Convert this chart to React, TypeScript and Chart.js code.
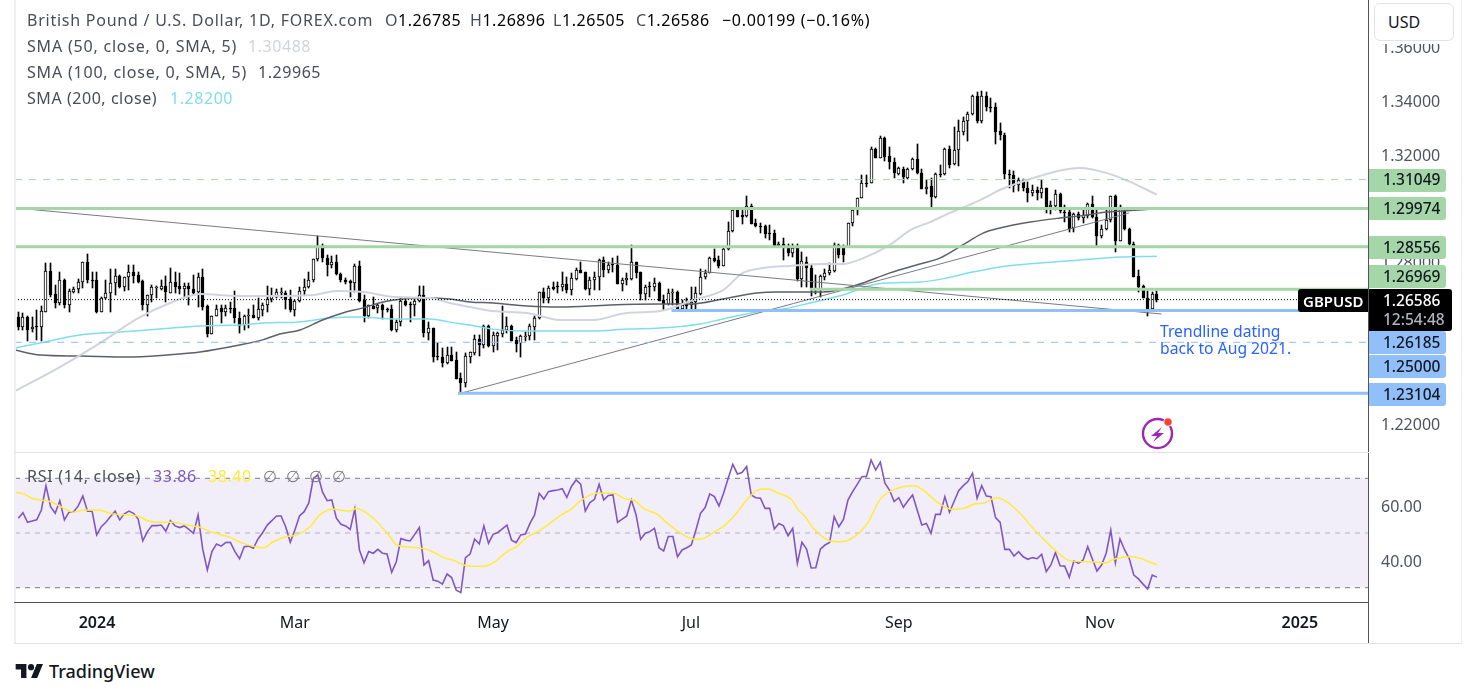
import React, { useEffect, useRef } from "react";
import { Chart, registerables } from "chart.js";

Chart.register(...registerables);

// Prices are written in 1/10000 units (12593 = 1.2593)
const opens = [
  12593,12558,12593,12548,12561,12558,12614,12764,12680,12645,
  12732,12637,12687,12697,12723,12798,12732,12732,12614,12664,
  12682,12720,12747,12707,12742,12761,12749,12728,12637,12674,
  12703,12700,12710,12685,12723,12710,12700,12710,12697,12686,
  12743,12634,12532,12596,12627,12614,12627,12627,12589,12563,
  12598,12600,12592,12620,12638,12660,12670,12685,12684,12661,
  12620,12654,12689,12705,12730,12809,12850,12814,12789,12798,
  12753,12733,12728,12720,12784,12656,12598,12635,12627,12639,
  12623,12624,12546,12575,12655,12644,12637,12654,12674,12536,
  12552,12448,12446,12424,12452,12433,12366,12348,12447,12462,
  12511,12491,12561,12488,12525,12531,12544,12560,12508,12496,
  12524,12524,12558,12589,12686,12664,12705,12710,12707,12716,
  12695,12737,12768,12761,12699,12731,12742,12806,12767,12790,
  12788,12718,12731,12736,12798,12761,12680,12710,12705,12721,
  12656,12643,12685,12687,12625,12641,12640,12648,12679,12741,
  12758,12813,12805,12784,12845,12912,12991,12973,12969,13008,
  12942,12933,12932,12905,12905,12857,12867,12857,12833,12849,
  12737,12800,12778,12700,12700,12743,12758,12766,12861,12855,
  12855,12945,12991,13035,13094,13091,13218,13186,13258,13192,
  13169,13125,13146,13112,13146,13181,13128,13071,13081,13042,
  13125,13125,13218,13162,13214,13283,13321,13348,13415,13324,
  13415,13374,13374,13285,13271,13126,13122,13083,13104,13073,
  13056,13065,13056,13074,13004,13008,13052,12985,12985,12924,
  12976,12961,12971,13013,12965,12897,12921,12955,13043,12878,
  12988,12921,12866,12745,12708,12663,12624,12678.5,
];
const highs = [
  12614,12608,12599,12593,12620,12635,12794,12794,12713,12761,
  12734,12697,12705,12734,12800,12829,12763,12761,12670,12732,
  12772,12772,12751,12744,12788,12788,12763,12732,12676,12713,
  12710,12732,12747,12775,12763,12757,12722,12720,12751,12759,
  12772,12639,12599,12639,12639,12639,12651,12691,12612,12602,
  12624,12637,12666,12645,12710,12701,12697,12701,12689,12695,
  12658,12707,12734,12763,12809,12896,12866,12825,12819,12825,
  12759,12738,12732,12790,12803,12674,12639,12668,12643,12643,
  12627,12639,12583,12664,12664,12651,12664,12710,12710,12577,
  12555,12496,12478,12484,12484,12465,12385,12459,12465,12527,
  12527,12565,12565,12540,12540,12635,12593,12565,12521,12527,
  12540,12567,12596,12686,12701,12710,12723,12726,12761,12744,
  12757,12775,12800,12763,12744,12761,12809,12816,12800,12813,
  12821,12738,12757,12862,12800,12763,12713,12726,12738,12726,
  12676,12697,12697,12691,12658,12664,12707,12707,12774,12768,
  12818,12845,12820,12855,12948,12991,12991,12991,13043,13014,
  12958,12942,12936,12936,12917,12874,12886,12867,12867,12867,
  12836,12818,12787,12750,12750,12771,12793,12871,12867,12861,
  12945,12991,13035,13122,13122,13227,13221,13267,13262,13227,
  13184,13153,13153,13149,13184,13239,13143,13105,13110,13128,
  13159,13221,13230,13300,13327,13339,13358,13420,13432,13435,
  13432,13407,13389,13314,13277,13141,13137,13110,13107,13097,
  13085,13079,13104,13074,13025,13066,13056,13011,12998,12980,
  12986,12998,13017,13044,12992,12936,12992,13044,13048,13011,
  12992,12926,12872,12769,12713,12691,12688,12689.6,
];
const lows = [
  12546,12546,12503,12540,12509,12503,12614,12670,12629,12639,
  12627,12614,12682,12682,12701,12720,12701,12610,12614,12661,
  12614,12676,12701,12689,12695,12722,12720,12620,12599,12651,
  12664,12695,12651,12682,12682,12679,12664,12639,12676,12633,
  12620,12521,12531,12596,12573,12598,12608,12573,12536,12546,
  12552,12589,12583,12596,12614,12651,12664,12664,12623,12612,
  12599,12651,12676,12701,12726,12804,12798,12748,12775,12751,
  12726,12717,12670,12686,12651,12577,12589,12623,12608,12587,
  12612,12542,12540,12561,12635,12577,12598,12651,12521,12509,
  12428,12434,12407,12420,12432,12365,12313,12333,12424,12453,
  12449,12478,12484,12465,12472,12521,12534,12503,12465,12447,
  12503,12509,12509,12586,12645,12645,12695,12682,12689,12682,
  12676,12732,12757,12695,12676,12695,12695,12744,12757,12763,
  12717,12689,12713,12732,12738,12658,12658,12670,12689,12655,
  12620,12639,12639,12620,12620,12620,12620,12620,12675,12737,
  12756,12799,12778,12784,12843,12911,12964,12939,12967,12939,
  12929,12907,12886,12880,12855,12853,12805,12820,12818,12728,
  12706,12706,12673,12681,12669,12731,12750,12762,12812,12797,
  12855,12933,12973,13035,13078,13091,13184,13184,13175,13146,
  13109,13122,13091,13107,13140,13124,13070,13053,13004,13038,
  13116,13122,13149,13159,13156,13271,13250,13345,13317,13317,
  13360,13358,13238,13252,13106,13073,13060,13063,13064,13023,
  13044,13029,13035,12980,12976,12992,12980,12946,12909,12911,
  12955,12942,12963,12963,12859,12887,12918,12949,12837,12878,
  12918,12862,12744,12688,12663,12599,12624,12650.5,
];
const closes = [
  12558,12593,12546,12556,12556,12617,12764,12677,12645,12731,
  12637,12691,12697,12725,12798,12730,12730,12614,12664,12682,
  12720,12747,12707,12742,12761,12748,12726,12637,12674,12705,
  12706,12710,12686,12723,12707,12700,12710,12697,12685,12743,
  12633,12532,12597,12625,12614,12627,12625,12589,12561,12598,
  12600,12591,12623,12638,12660,12672,12687,12686,12658,12620,
  12654,12691,12705,12732,12809,12854,12813,12788,12798,12753,
  12732,12723,12720,12784,12655,12598,12637,12625,12639,12620,
  12622,12546,12575,12655,12640,12637,12655,12674,12536,12552,
  12447,12447,12424,12452,12432,12365,12348,12449,12463,12513,
  12491,12561,12488,12526,12534,12544,12560,12506,12495,12524,
  12525,12560,12589,12686,12664,12701,12700,12707,12716,12695,
  12738,12769,12759,12699,12732,12743,12806,12767,12788,12788,
  12718,12731,12739,12798,12759,12680,12707,12705,12720,12655,
  12643,12684,12686,12620,12638,12635,12649,12684,12741,12756,
  12813,12803,12783,12845,12912,12991,12967,12967,13008,12941,
  12933,12932,12902,12903,12857,12867,12855,12833,12849,12735,
  12803,12777,12700,12696,12746,12759,12768,12861,12824,12824,
  12945,12991,13035,13091,13091,13218,13186,13258,13190,13169,
  13128,13149,13113,13146,13181,13128,13070,13078,13042,13125,
  13122,13218,13159,13215,13286,13321,13348,13415,13324,13415,
  13373,13373,13283,13269,13125,13125,13081,13102,13073,13056,
  13065,13056,13074,13004,13011,13052,12988,12983,12921,12976,
  12961,12973,13013,12965,12897,12921,12955,13043,12878,13004,
  12921,12866,12744,12706,12663,12624,12678,12658.6,
];

const rsiValues = [
  55.4,57.4,53.9,54.4,54.8,58.4,67.3,59.6,57.2,61.8,
  54.8,57.6,57.8,59.9,63.5,58,58,49.3,52.3,53.9,
  56,58,54.8,57,58,57.2,55.1,47.1,50.5,52.7,
  52.7,52.9,50.7,54.5,52.6,52,52.6,51.3,49.9,56.6,
  44.1,36.5,43.2,46,45.2,46.5,46.6,43.2,40.6,45,
  45.2,44.4,47.8,50.1,52.9,54.5,56.2,56.2,52.3,46.6,
  51.1,56.2,57.8,60.9,70,71.2,64.9,61.8,62.1,55.4,
  53.2,52.6,51.3,58.8,43.8,39.1,43.2,42.6,44,42.6,
  42.3,35.6,39.5,48,47.4,47.1,49.5,52,38.3,39.9,
  32.8,32.4,31.3,35,33.7,29.1,28.2,41,42.3,47.8,
  46,52.6,46.2,49.5,50.2,51.5,52.9,47.4,46.5,49.3,
  49.6,53.5,56.6,64.5,62.4,65.1,65.5,65.7,66.2,63,
  67,69.4,67.9,58,61.1,62.3,67.8,62.1,63.7,63.9,
  53.9,55.1,56.2,62.1,56.8,47.7,49.9,50.5,51.7,44.6,
  43.4,48.7,48.7,41.3,43.8,44.6,45.6,51.1,57.2,59.3,
  64.3,63.3,59.9,64.5,70,75.1,71.6,72.1,74.3,63.9,
  62.9,62.7,59,59,51.5,53.5,52.6,49,51.7,38.9,
  46.6,44.1,37.2,37.3,44.1,45.6,46.5,56,52.3,55,
  62.1,65.1,67.8,70.6,70.7,76.7,73,75.9,68.2,65.7,
  61.5,62.9,59.4,61.8,63.9,58.4,52.9,53.5,49.9,56.8,
  56.8,63.3,57.6,61.5,65.5,67.3,68.8,71.8,62.7,67.3,
  63.5,63.3,55.6,53.9,44,44,41.6,43.2,41.3,40.4,
  41,40.6,42.2,35.9,38.3,42.8,38,37.9,33.8,39.8,
  38.9,40.1,45,40.5,36.1,38.3,42.6,51.1,39.1,47.8,
  43.8,40.7,34.6,33.2,31.3,29.5,34.6,33.86,
];

const rsiMaBars = [0.4,2.1,4.3,7.9,10.8,12.9,15.1,18.7,21.6,26.7,29.2,31.7,34.6,37.5,40.4,42.6,46.9,49.8,54.2,56.3,59.2,61.4,64.3,66.4,69.3,72.9,74.4,78,81.6,83.1,86.7,90,93.2,95.7,98.3,101.9,104,107.3,109.1,111.3,113.4,115.6,118.5,121,123.2,126.5,130,133,134.4,136.9,139.5,141.6,144.2,147.4,148.9,152.1,154.3,156.8,159,161.9,163.7,165.5,168.8,170.2,171.6,173.5,177.1,179.6,182.9,185.4,187.9,190.5,195.2,197.3,200.2,203.5,206,208.5,210.3,213.2,215.4,218.3,221.5,225.5,229.1,233.5,237.1,238.2,242.5,248];
const rsiMaValues = [64.9,64.3,62.5,61.5,59.1,57.6,58.4,58.3,56.9,56.3,54.4,53.9,53.9,52.9,52.1,50.5,48.4,46.2,44.6,46.8,48.7,49.3,52.3,56.6,58.7,58,59,55.4,48.7,45.6,44.8,43.8,41.1,39.8,38,37.8,39.1,43.5,45,48.4,50.2,52.6,56.3,58.8,62.1,64.5,64.5,62.3,62.1,58.7,57,53.9,50.5,47.8,47.7,50.5,52.9,57.2,62.1,66,66.1,64.8,62.1,58.4,56.2,51.7,47.1,46.8,49.3,54.1,62.1,65.5,67.3,65.7,61.5,58.7,59,60.6,60.9,62.9,61.5,57.2,51.1,44.4,39.9,39.5,39.1,40.1,41.3,38.4];

const sma50Bars = [0.3,10,18.7,27,33.9,40.4,49,54,64.9,70,75.8,83.1,90.3,94.6,99,104,111.4,118.5,125.7,133,140.2,147.4,153.9,158.2,162.6,168.4,175.6,179.9,184.3,190.1,194.5,198.8,203.1,209.2,214.4,219.8,226.5,231.3,237.2,241.7,248];
const sma50Values = [1.2319,1.2408,1.2497,1.259,1.2646,1.268,1.2672,1.2672,1.2676,1.2691,1.2687,1.2668,1.2665,1.2646,1.2631,1.2616,1.2609,1.2583,1.2583,1.2609,1.2616,1.2657,1.2694,1.2758,1.2776,1.2784,1.2791,1.2791,1.2813,1.2862,1.2917,1.2947,1.2981,1.3025,1.307,1.3103,1.3137,1.3148,1.3129,1.31,1.30488];
const sma100Bars = [0.3,5.7,14.4,24.6,33.3,40.4,49,54,57.7,62.1,67,71.4,75.8,80.1,84.4,90.3,94.6,99,104,111.4,118.5,129.4,140.2,146.7,153.9,161.2,165.6,175.6,182.9,190.1,196.6,200.9,205.9,210.3,214,220.5,227,231.3,237.2,240.6,248];
const sma100Values = [1.2471,1.2453,1.2449,1.2445,1.2453,1.2464,1.249,1.2509,1.2531,1.2546,1.2583,1.2609,1.2628,1.265,1.2661,1.2665,1.2661,1.265,1.2646,1.2635,1.2631,1.2639,1.2642,1.2642,1.2661,1.2683,1.2687,1.2687,1.2713,1.2758,1.2791,1.2813,1.2862,1.2906,1.2925,1.2947,1.2962,1.297,1.2984,1.2988,1.29965];
const sma200Bars = [0.3,5.7,14.4,23,31.7,40.4,49,54,61.4,68.6,74.4,83.1,90.3,94.6,99,104,111.4,118.5,125.7,133,140.2,148.9,153.9,161.2,166.9,172.7,179.9,187.3,196.6,202.4,208,214,222.7,231.3,240,248];
const sma200Values = [1.2479,1.2497,1.2527,1.2538,1.2549,1.2561,1.2564,1.2572,1.2575,1.259,1.2594,1.2587,1.2587,1.2575,1.2564,1.2549,1.2542,1.2542,1.2542,1.2549,1.2553,1.2568,1.2587,1.2613,1.2624,1.2646,1.2676,1.2717,1.2724,1.2739,1.2761,1.278,1.2795,1.2806,1.2817,1.282];

const levelPrices = [1.29974, 1.28556, 1.26969, 1.31049, 1.26185, 1.25, 1.23104, 1.26586];
const levelStarts = [0.28, 0.28, 172.7, 0.28, 142.7, 0.28, 96.4, 0.28];
const trendDownBars = [0.28, 249];
const trendDownPrices = [1.29993, 1.26052];
const trendUpBars = [96.4, 242];
const trendUpPrices = [1.23078, 1.2981];

const priceTicks = [1.36, 1.34, 1.32, 1.3, 1.28, 1.26, 1.24, 1.22];
const rsiTicks = [40, 60];
const timeTickBars = [18.07, 61, 104, 146.9, 192, 235.6, 279];
const timeTickLabels = ["2024", "Mar", "May", "Jul", "Sep", "Nov", "2025"];

const X_MIN = 0.28;
const X_MAX = 293.8;
const PRICE_MAX = 1.37725;
const PRICE_MIN = 1.20922;
const RSI_MAX = 79.25;
const RSI_MIN = 24.77;

const FONT = '"Noto Sans", sans-serif';
const GREEN = "#a5d6a7";
const BLUE = "#90bff9";

const pts = (xs: number[], ys: number[]) => xs.map((x, i) => ({ x, y: ys[i] }));

const snapBars = {
  id: "snapBars",
  afterDatasetsUpdate(chart: any) {
    chart.data.datasets.forEach((_: any, di: number) => {
      const meta = chart.getDatasetMeta(di);
      if (meta.type !== "bar") return;
      meta.data.forEach((el: any) => {
        el.x = Math.floor(el.x) + 0.5;
        el.y = Math.round(el.y);
        el.base = Math.round(el.base);
        if (Math.abs(el.base - el.y) < 1) el.base = el.y + 1;
      });
    });
  },
};

const nudgeLabels = {
  id: "nudgeLabels",
  beforeDraw(chart: any) {
    const items = chart.scales.y.getLabelItems(chart.chartArea);
    items.forEach((it: any) => {
      it.options.translation = [it.options.translation[0], it.options.translation[1] + 2];
    });
  },
};

const noPad = (s: any) => {
  s.paddingTop = 0;
  s.paddingBottom = 0;
  s.paddingLeft = 0;
  s.paddingRight = 0;
};

const lineDs = (data: any[], color: string, width: number, order: number, extra: any = {}) => ({
  type: "line" as const,
  data,
  borderColor: color,
  borderWidth: width,
  pointRadius: 0,
  order,
  ...extra,
});

const levelDs = (i: number, color: string, width: number, dash: number[] = []) =>
  lineDs(
    [
      { x: levelStarts[i], y: levelPrices[i] },
      { x: X_MAX, y: levelPrices[i] },
    ],
    color,
    width,
    1,
    { borderDash: dash }
  );

function T(props: any) {
  const { x, y, c = "#4a4d57", s = 16, w = 400, ls = 0.55, children } = props;
  return (
    <div
      style={{
        position: "absolute",
        left: x,
        top: y,
        transform: "translateY(-50%)",
        color: c,
        fontSize: s,
        fontWeight: w,
        fontFamily: FONT,
        lineHeight: 1,
        letterSpacing: ls,
        whiteSpace: "nowrap",
      }}
    >
      {children}
    </div>
  );
}

function Box(props: any) {
  const { x, y, w, h, bg, radius = "0 3px 3px 0", children } = props;
  return (
    <div
      style={{
        position: "absolute",
        left: x,
        top: y,
        width: w,
        height: h,
        background: bg,
        borderRadius: radius,
      }}
    >
      {children}
    </div>
  );
}

function PriceTag({ y, bg, text }: any) {
  return (
    <>
      <Box x={1369} y={y - 11.5} w={77} h={23} bg={bg} />
      <T x={1383} y={y} c="#131722" s={15.5} ls={0} w={500}>
        {text}
      </T>
    </>
  );
}

export default function App() {
  const priceRef = useRef<HTMLCanvasElement>(null);
  const rsiRef = useRef<HTMLCanvasElement>(null);

  useEffect(() => {
    const wicks = lows.map((l, i) => ({ x: i + 1, y: [l / 10000, highs[i] / 10000] }));
    const bodies = opens.map((o, i) => ({
      x: i + 1,
      y: [Math.min(o, closes[i]) / 10000, Math.max(o, closes[i]) / 10000],
    }));
    const price = new Chart(priceRef.current as HTMLCanvasElement, {
      type: "bar",
      data: {
        datasets: [
          {
            data: wicks,
            backgroundColor: "#000",
            barThickness: 1,
            grouped: false,
            order: 6,
          },
          {
            data: bodies,
            backgroundColor: (ctx: any) =>
              closes[ctx.dataIndex] >= opens[ctx.dataIndex] ? "#fff" : "#000",
            borderColor: "#000",
            borderWidth: 1,
            borderSkipped: false,
            barThickness: 3,
            grouped: false,
            order: 5,
          },
          lineDs(pts(sma50Bars, sma50Values), "#d1d4dc", 2, 3, { cubicInterpolationMode: "monotone" }),
          lineDs(pts(sma100Bars, sma100Values), "#5d606b", 1.5, 3, { cubicInterpolationMode: "monotone" }),
          lineDs(pts(sma200Bars, sma200Values), "#80deea", 1.5, 3, { cubicInterpolationMode: "monotone" }),
          lineDs(pts(trendDownBars, trendDownPrices), "#787b86", 1, 2),
          lineDs(pts(trendUpBars, trendUpPrices), "#787b86", 1, 2),
          levelDs(7, "#000", 1, [1, 2]),
          levelDs(0, GREEN, 3),
          levelDs(1, GREEN, 3),
          levelDs(2, GREEN, 3),
          levelDs(3, GREEN, 1, [7, 7]),
          levelDs(4, BLUE, 3),
          levelDs(5, BLUE, 1, [7, 7]),
          levelDs(6, BLUE, 3),
        ] as any,
      },
      plugins: [snapBars, nudgeLabels],
      options: {
        animation: false,
        responsive: false,
        layout: { padding: { left: 15, top: 0, right: 0, bottom: 0 } },
        plugins: { legend: { display: false }, tooltip: { enabled: false } },
        scales: {
          x: { type: "linear", min: X_MIN, max: X_MAX, display: false, offset: false },
          y: {
            type: "linear",
            position: "right",
            min: PRICE_MIN,
            max: PRICE_MAX,
            grid: { display: false },
            border: { display: false },
            afterFit: (s: any) => {
              s.width = 108;
              noPad(s);
            },
            afterBuildTicks: (s: any) => {
              s.ticks = priceTicks.map((v) => ({ value: v }));
            },
            ticks: {
              autoSkip: false,
              padding: 5,
              color: "#50535e",
              font: { family: FONT, size: 16 },
              callback: (v: any) => Number(v).toFixed(5),
            },
          },
        },
      } as any,
    });

    const rsi = new Chart(rsiRef.current as HTMLCanvasElement, {
      type: "line",
      data: {
        datasets: [
          lineDs(
            [
              { x: X_MIN, y: 70 },
              { x: X_MAX, y: 70 },
            ],
            "#787b86",
            1,
            3,
            { borderDash: [5, 5], fill: "+1", backgroundColor: "rgba(126,87,194,0.1)" }
          ),
          lineDs(
            [
              { x: X_MIN, y: 30 },
              { x: X_MAX, y: 30 },
            ],
            "#787b86",
            1,
            3,
            { borderDash: [5, 5] }
          ),
          lineDs(
            [
              { x: X_MIN, y: 50 },
              { x: X_MAX, y: 50 },
            ],
            "rgba(120,123,134,0.5)",
            1,
            3,
            { borderDash: [5, 5] }
          ),
          lineDs(
            rsiValues.map((v, i) => ({ x: i + 1, y: v })),
            "#7e57c2",
            1.6,
            2
          ),
          lineDs(pts(rsiMaBars, rsiMaValues), "#ffeb3b", 1.5, 1, { cubicInterpolationMode: "monotone" }),
        ] as any,
      },
      plugins: [nudgeLabels],
      options: {
        animation: false,
        responsive: false,
        layout: { padding: { left: 15, top: 0, right: 0, bottom: 0 } },
        plugins: { legend: { display: false }, tooltip: { enabled: false } },
        scales: {
          x: {
            type: "linear",
            min: X_MIN,
            max: X_MAX,
            grid: { display: false },
            border: { display: false },
            afterFit: (s: any) => {
              s.height = 41;
              noPad(s);
            },
            afterBuildTicks: (s: any) => {
              s.ticks = timeTickBars.map((v) => ({ value: v }));
            },
            ticks: {
              autoSkip: false,
              maxRotation: 0,
              padding: 4,
              color: "#131722",
              font: (ctx: any) => {
                const lab = ctx.tick ? timeTickLabels[timeTickBars.indexOf(ctx.tick.value)] : "";
                const year = /^\d+$/.test(lab || "");
                return { family: FONT, size: 16, weight: year ? "600" : "400" };
              },
              callback: (_v: any, i: number) => timeTickLabels[i],
            },
          },
          y: {
            type: "linear",
            position: "right",
            min: RSI_MIN,
            max: RSI_MAX,
            grid: { display: false },
            border: { display: false },
            afterFit: (s: any) => {
              s.width = 108;
              noPad(s);
            },
            afterBuildTicks: (s: any) => {
              s.ticks = rsiTicks.map((v) => ({ value: v }));
            },
            ticks: {
              autoSkip: false,
              padding: 5,
              color: "#50535e",
              font: { family: FONT, size: 16 },
              callback: (v: any) => Number(v).toFixed(2),
            },
          },
        },
      } as any,
    });

    return () => {
      price.destroy();
      rsi.destroy();
    };
  }, []);

  return (
    <div
      style={{
        position: "fixed",
        left: 0,
        top: 0,
        width: 1476,
        height: 697,
        background: "#fff",
        overflow: "hidden",
      }}
    >
      <canvas
        ref={priceRef}
        width={1476}
        height={452}
        style={{ position: "absolute", left: 0, top: 0, width: 1476, height: 452 }}
      />
      <canvas
        ref={rsiRef}
        width={1476}
        height={190}
        style={{ position: "absolute", left: 0, top: 453, width: 1476, height: 190 }}
      />

      {/* frame */}
      <Box x={14} y={0} w={2} h={644} bg="#eeeff4" radius="0" />
      <Box x={1368} y={0} w={1} h={644} bg="#50535e" radius="0" />
      <Box x={1461} y={0} w={1} h={644} bg="#eeeff4" radius="0" />
      <Box x={14} y={452} w={1355} h={1} bg="#e0e3eb" radius="0" />
      <Box x={14} y={602} w={1355} h={1} bg="#50535e" radius="0" />
      <Box x={14} y={643} w={1448} h={1} bg="#e0e3eb" radius="0" />

      {/* legend */}
      <T x={27} y={20} ls={0.76}>British Pound / U.S. Dollar, 1D, FOREX.com</T>
      <T x={385} y={20}>O<span style={{ color: "#000" }}>1.26785</span></T>
      <T x={470} y={20}>H<span style={{ color: "#000" }}>1.26896</span></T>
      <T x={553} y={20}>L<span style={{ color: "#000" }}>1.26505</span></T>
      <T x={636} y={20}>C<span style={{ color: "#000" }}>1.26586</span></T>
      <T x={722} y={20} c="#000" ls={0.7}>−0.00199 (−0.16%)</T>
      <T x={27} y={46} ls={0.8}>SMA (50, close, 0, SMA, 5)</T>
      <T x={248} y={46} c="#d1d4dc">1.30488</T>
      <T x={27} y={72} ls={0.8}>SMA (100, close, 0, SMA, 5)</T>
      <T x={258} y={72}>1.29965</T>
      <T x={27} y={98}>SMA (200, close)</T>
      <T x={170} y={98} c="#80deea">1.28200</T>

      <T x={27} y={476} ls={0.75}>RSI (14, close)</T>
      <T x={153} y={476} c="#7e57c2">33.86</T>
      <T x={208} y={476} c="#ffeb3b">38.40</T>
      <T x={263} y={476} c="#787b86">∅</T>
      <T x={286} y={476} c="#787b86">∅</T>
      <T x={309} y={476} c="#787b86">∅</T>
      <T x={332} y={476} c="#787b86">∅</T>

      {/* annotation */}
      <T x={1160} y={332} c="#2962ff" s={15.7} ls={0}>Trendline dating</T>
      <T x={1160} y={349} c="#2962ff" s={15.7} ls={0}>back to Aug 2021.</T>

      {/* axis tags */}
      <Box x={1374} y={0} w={80} h={44} bg="#fff" radius="0" />
      <div
        style={{
          position: "absolute",
          left: 1374,
          top: 3,
          width: 78,
          height: 36,
          border: "1px solid #e0e3eb",
          borderRadius: 6,
        }}
      />
      <T x={1388} y={22} c="#131722" s={16} ls={0}>USD</T>

      <PriceTag y={180} bg={GREEN} text="1.31049" />
      <PriceTag y={208.5} bg={GREEN} text="1.29974" />
      <PriceTag y={247.5} bg={GREEN} text="1.28556" />
      <PriceTag y={276.5} bg={GREEN} text="1.26969" />
      <PriceTag y={342.5} bg={BLUE} text="1.26185" />
      <PriceTag y={366.5} bg={BLUE} text="1.25000" />
      <PriceTag y={394.5} bg={BLUE} text="1.23104" />

      <Box x={1298} y={289} w={70} h={23} bg="#000" radius="3px 0 0 3px" />
      <T x={1303} y={300.5} c="#fff" s={15} ls={0} w={600}>GBPUSD</T>
      <Box x={1369} y={289} w={83} h={42} bg="#000" />
      <T x={1383} y={300.5} c="#fff" s={15.5} ls={0} w={500}>1.26586</T>
      <T x={1383} y={320} c="#b2b5be" s={15.5} ls={0} w={500}>12:54:48</T>

      {/* marker icon */}
      <svg
        style={{ position: "absolute", left: 1140, top: 416 }}
        width={36}
        height={36}
        viewBox="0 0 36 36"
      >
        <circle cx={17.5} cy={17.5} r={14.5} fill="#fff" stroke="#9c27b0" strokeWidth={2.4} />
        <path d="M22 11 L11 20 H17 L13 26 L24 17 H18 Z" fill="#9c27b0" />
        <circle cx={28} cy={6} r={4.2} fill="#f44336" stroke="#fff" strokeWidth={1} />
      </svg>

      {/* logo */}
      <svg
        style={{ position: "absolute", left: 15, top: 661 }}
        width={29}
        height={20}
        viewBox="0 0 36 26"
      >
        <path d="M14 22H7V11H0V4h14v18zM28 22h-8l7.5-18h8L28 22z" fill="#131722" />
        <circle cx={20} cy={8} r={4} fill="#131722" />
      </svg>
      <T x={49} y={671} c="#131722" s={18} w={500} ls={0}>TradingView</T>
    </div>
  );
}
